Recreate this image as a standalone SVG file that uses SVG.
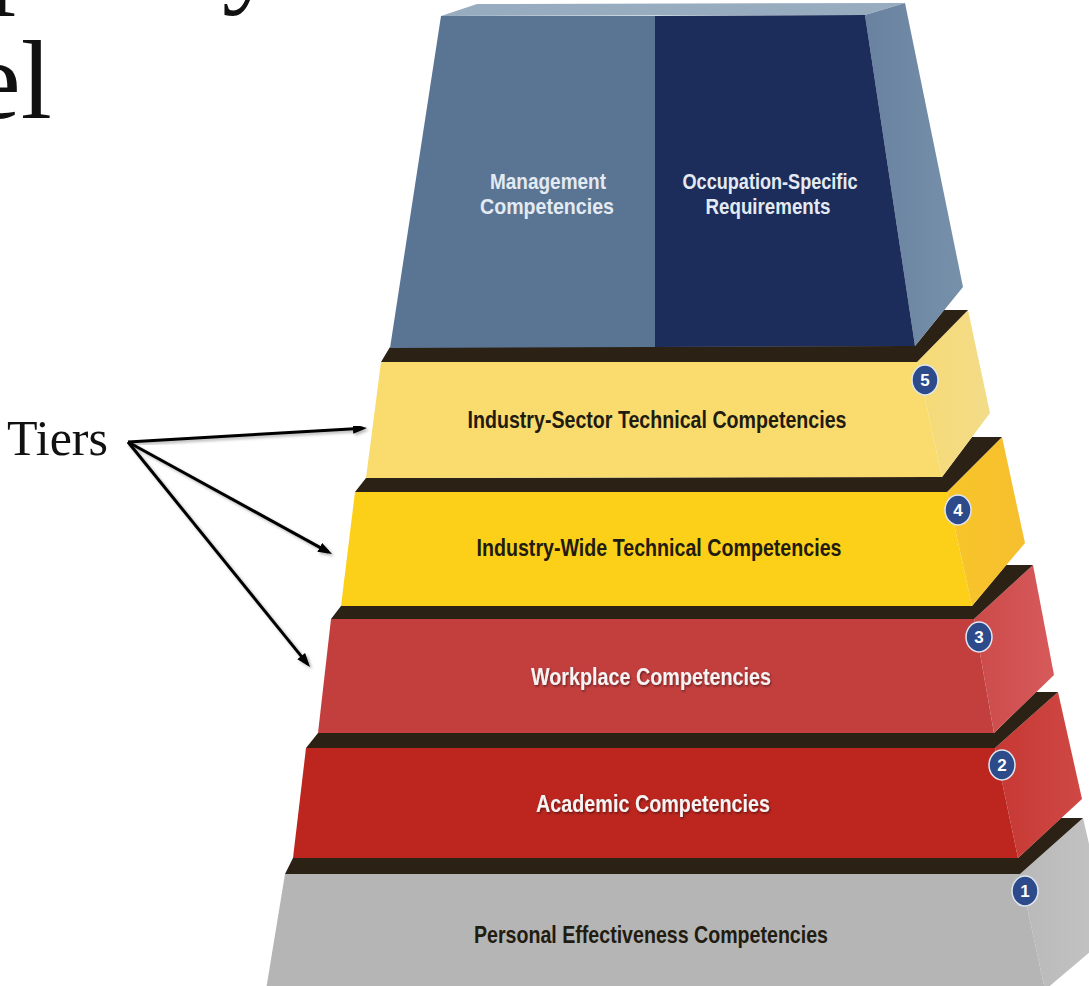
<svg xmlns="http://www.w3.org/2000/svg" width="1089" height="986" viewBox="0 0 1089 986">
<style>
.title{font-family:"Liberation Serif","Times New Roman",serif;fill:#111;}
.lbl{font-family:"Liberation Sans",Arial,sans-serif;font-weight:bold;font-size:24px;text-anchor:middle;}
.dark{fill:#211b10;}
.light{fill:#f4f4f4;filter:url(#tshadow);}
.blue{fill:#e3eaf2;font-size:22px;}
.topface{fill:#2b2114;}
.num{fill:#2d4b8b;stroke:#dfe6f0;stroke-width:1.5;}
.numt{font-family:"Liberation Sans",Arial,sans-serif;font-weight:bold;font-size:17px;fill:#fff;text-anchor:middle;}
.arrow{stroke:#000;stroke-width:3;fill:none;marker-end:url(#ah);filter:url(#ashadow);}
</style>
<defs>
<marker id="ah" markerUnits="userSpaceOnUse" markerWidth="16" markerHeight="12" refX="10" refY="5" orient="auto">
<path d="M0,0 L14,5 L0,10 z" fill="#000"/>
</marker>
<filter id="tshadow" x="-10%" y="-30%" width="120%" height="160%">
<feDropShadow dx="1" dy="1.5" stdDeviation="1" flood-color="#000" flood-opacity="0.45"/>
</filter>
<filter id="ashadow" x="-10%" y="-10%" width="120%" height="130%">
<feDropShadow dx="2" dy="2" stdDeviation="1.5" flood-color="#000" flood-opacity="0.3"/>
</filter>
<linearGradient id="gSide1" x1="0" y1="0" x2="1" y2="0"><stop offset="0" stop-color="#b9b9b9"/><stop offset="1" stop-color="#c4c4c4"/></linearGradient>
<linearGradient id="gSide2" x1="0" y1="0" x2="1" y2="0"><stop offset="0" stop-color="#c63833"/><stop offset="1" stop-color="#cf4844"/></linearGradient>
<linearGradient id="gSide3" x1="0" y1="0" x2="1" y2="0"><stop offset="0" stop-color="#cc4a4a"/><stop offset="1" stop-color="#d75a5b"/></linearGradient>
<linearGradient id="gSide4" x1="0" y1="0" x2="1" y2="0"><stop offset="0" stop-color="#f8c52a"/><stop offset="1" stop-color="#f6bf2e"/></linearGradient>
<linearGradient id="gSide5" x1="0" y1="0" x2="1" y2="0"><stop offset="0" stop-color="#f6da76"/><stop offset="1" stop-color="#f3dc89"/></linearGradient>
<linearGradient id="gSide6" x1="0" y1="0" x2="1" y2="0"><stop offset="0" stop-color="#6882a0"/><stop offset="1" stop-color="#7790aa"/></linearGradient>
</defs>
<rect x="0" y="0" width="1089" height="986" fill="#ffffff"/>

<g id="title">
<text class="title" x="-12" y="-8" font-size="112">p</text>
<text class="title" x="222" y="-8" font-size="112">y</text>
<text class="title" x="-29" y="118" font-size="112">el</text>
</g>

<g id="tier1">
<polygon points="1020,874 1083,818 1110,935 1045,990" fill="url(#gSide1)"/>
<polygon points="285,874 1020,874 1045,990 266,990" fill="#b4b5b4"/>
<polygon class="topface" points="285,874 1020,874 1083,818 1061,818 1018,858 293,858"/>
<text class="lbl dark" x="651" y="943" textLength="354" lengthAdjust="spacingAndGlyphs">Personal Effectiveness Competencies</text>
<ellipse class="num" cx="1025" cy="891" rx="13" ry="15"/>
<text class="numt" x="1025" y="897">1</text>
</g>

<g id="tier2">
<polygon points="995,748 1058,692 1082,799 1018,858" fill="url(#gSide2)"/>
<polygon points="306,748 995,748 1018,858 293,858" fill="#bc261f"/>
<polygon class="topface" points="306,748 995,748 1058,692 1036,692 994,733 318,733"/>
<text class="lbl light" x="653" y="812" textLength="234" lengthAdjust="spacingAndGlyphs">Academic Competencies</text>
<ellipse class="num" cx="1002" cy="765" rx="13" ry="15"/>
<text class="numt" x="1002" y="771">2</text>
</g>

<g id="tier3">
<polygon points="974,619 1033,565 1054,675 994,733" fill="url(#gSide3)"/>
<polygon points="331,619 974,619 994,733 318,733" fill="#c23f3e"/>
<polygon class="topface" points="331,619 974,619 1033,565 1006,565 972,606 341,606"/>
<text class="lbl light" x="651" y="685" textLength="240" lengthAdjust="spacingAndGlyphs">Workplace Competencies</text>
<ellipse class="num" cx="979" cy="637" rx="13" ry="15"/>
<text class="numt" x="979" y="643">3</text>
</g>

<g id="tier4">
<polygon points="947,492 1002,437 1025,543 972,606" fill="url(#gSide4)"/>
<polygon points="355,492 947,492 972,606 341,606" fill="#fcd018"/>
<polygon class="topface" points="355,492 947,492 1002,437 972,437 942,477 366,478"/>
<text class="lbl dark" x="659" y="556" textLength="365" lengthAdjust="spacingAndGlyphs">Industry-Wide Technical Competencies</text>
<ellipse class="num" cx="958" cy="510" rx="13" ry="15"/>
<text class="numt" x="958" y="516">4</text>
</g>

<g id="tier5">
<polygon points="917,362 968,310 990,413 942,477" fill="url(#gSide5)"/>
<polygon points="381,362 917,362 942,477 366,478" fill="#f9dc6d"/>
<polygon class="topface" points="381,362 917,362 968,310 944,310 915,346 390,347"/>
<text class="lbl dark" x="657" y="428" textLength="379" lengthAdjust="spacingAndGlyphs">Industry-Sector Technical Competencies</text>
<ellipse class="num" cx="925" cy="380" rx="13" ry="15"/>
<text class="numt" x="925" y="386">5</text>
</g>

<g id="tier6">
<polygon points="441,16 477,4 905,3 865,15" fill="#98acc0"/>
<polygon points="865,15 905,3 963,287 915,346" fill="url(#gSide6)"/>
<polygon points="441,16 655,16 655,347 390,348" fill="#5a7594"/>
<polygon points="655,16 865,15 915,346 655,347" fill="#1d2d5b"/>
<text class="lbl blue" x="548" y="189" textLength="116" lengthAdjust="spacingAndGlyphs">Management</text>
<text class="lbl blue" x="547" y="214" textLength="134" lengthAdjust="spacingAndGlyphs">Competencies</text>
<text class="lbl blue" x="770" y="189" textLength="175" lengthAdjust="spacingAndGlyphs">Occupation-Specific</text>
<text class="lbl blue" x="768" y="214" textLength="125" lengthAdjust="spacingAndGlyphs">Requirements</text>
</g>

<g id="tiers-label">
<text class="title" x="7" y="455" font-size="50">Tiers</text>
</g>

<g id="connectors">
<path class="arrow" d="M128,442 L363,428.2"/>
<path class="arrow" d="M128,442 L328.5,552.1"/>
<path class="arrow" d="M128,442 L307.5,663.9"/>
</g>
</svg>
